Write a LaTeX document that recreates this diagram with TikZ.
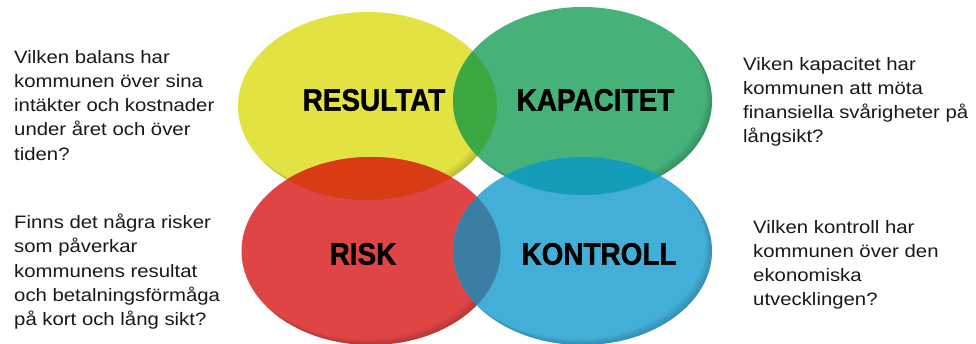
\documentclass[tikz,border=0pt]{standalone}
\usepackage{fontspec}
\setmainfont[FakeStretch=1.13]{Liberation Sans}
\newfontfamily\headfont[FakeStretch=0.9,FakeBold=1.2]{Liberation Sans}
\newcommand\rimshade[2]{%
  \begin{scope}
    \clip (#1,#2) ellipse [x radius=129.5, y radius=94];
    \foreach \s in {1.5,3,4.5,6}
      \fill[black,opacity=0.045,even odd rule] (#1-200,#2-200) rectangle (#1+200,#2+200)
        (#1-\s,#2-\s) ellipse [x radius=129.5, y radius=94];
  \end{scope}}
\begin{document}
\begin{tikzpicture}[x=1pt,y=-1pt,
  head/.style={font=\headfont\bfseries\fontsize{31}{31}\selectfont, inner sep=0pt, text=black},
  body/.style={font=\fontsize{18}{24.2}\selectfont, align=left, anchor=north west, inner sep=0pt, text=black!90}]
\definecolor{cy}{HTML}{E3E243}
\definecolor{cg}{HTML}{46B27A}
\definecolor{cr}{HTML}{E04546}
\definecolor{cb}{HTML}{43AFD8}
\definecolor{cyg}{HTML}{3BA842}
\definecolor{cyr}{HTML}{D93B14}
\definecolor{cgb}{HTML}{139DB8}
\definecolor{crb}{HTML}{3B7DA3}
\useasboundingbox[fill=white] (0,0) rectangle (976,344);
% ellipses
\def\ey{(367.5,106) ellipse [x radius=129.5, y radius=94]}
\def\eg{(582.5,101) ellipse [x radius=129.5, y radius=94]}
\def\er{(371,251) ellipse [x radius=129.5, y radius=94]}
\def\eb{(582.5,251) ellipse [x radius=129.5, y radius=94]}
\fill[cy] \ey;
\rimshade{367.5}{106}
\fill[cg] \eg;
\rimshade{582.5}{101}
\fill[cr] \er;
\rimshade{371}{251}
\fill[cb] \eb;
\rimshade{582.5}{251}
\begin{scope}\clip \ey; \fill[cyg] \eg; \end{scope}
\begin{scope}\clip \ey; \fill[cyr] \er; \end{scope}
\begin{scope}\clip \eg; \fill[cgb] \eb; \end{scope}
\begin{scope}\clip \er; \fill[crb] \eb; \end{scope}
% labels
\node[head] (res) at (374,100) {RESULTAT};
\node[head] (kap) at (595.5,100) {KAPACITET};
\node[head] (risk) at (363,254) {RISK};
\node[head] (kon) at (599,254) {KONTROLL};
% texts
\node[body] (t1) at (14,50) {Vilken balans har\\kommunen över sina\\intäkter och kostnader\\under året och över\\tiden?};
\node[body] (t2) at (14,214) {Finns det några risker\\som påverkar\\kommunens resultat\\och betalningsförmåga\\på kort och lång sikt?};
\node[body] (t3) at (743,57) {Viken kapacitet har\\kommunen att möta\\finansiella svårigheter på\\långsikt?};
\node[body] (t4) at (753,220) {Vilken kontroll har\\kommunen över den\\ekonomiska\\utvecklingen?};
\end{tikzpicture}
\end{document}
